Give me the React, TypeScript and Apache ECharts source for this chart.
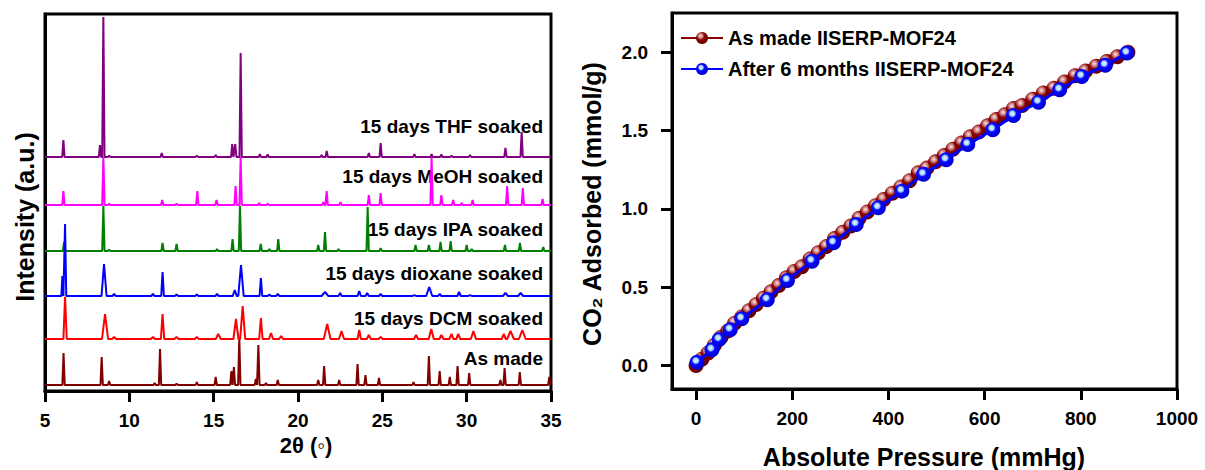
import React, { useEffect, useRef } from "react";
import * as echarts from "echarts";

const FONT = '"Liberation Sans", Arial, sans-serif';

// ---------- Left panel: PXRD patterns ----------
const twoThetaTicks = [5, 10, 15, 20, 25, 30, 35];
const patternNames = [
  "As made",
  "15 days DCM soaked",
  "15 days dioxane soaked",
  "15 days IPA soaked",
  "15 days MeOH soaked",
  "15 days THF soaked",
];
const patternColors = ["#800000", "#ff0000", "#0000ff", "#008000", "#ff00ff", "#800080"];
// vertical stacking offsets (a.u.)
const patternOffsets = [6, 52, 95, 140, 186, 234];
// default peak half-widths (degrees 2θ)
const patternHalfWidths = [0.07, 0.12, 0.1, 0.07, 0.07, 0.07];

// peaks: [2θ, intensity, optional half-width]
const peaksAsMade: number[][] = [
  [6.1, 32], [8.36, 28], [8.8, 4], [11.5, 2], [11.82, 36], [12.8, 1.5], [14.0, 3], [15.12, 8],
  [16.05, 14], [16.2, 18], [16.52, 48], [17.5, 6], [17.65, 40], [18.1, 2], [18.8, 5], [21.2, 5],
  [21.55, 19], [22.44, 5], [23.53, 21], [24.0, 10], [24.8, 7], [26.85, 3], [27.76, 29], [28.4, 14],
  [29.0, 8], [29.46, 19], [30.15, 12], [32.0, 5], [32.25, 17], [33.15, 13], [34.9, 8],
];
const peaksDCM: number[][] = [
  [6.19, 42, 0.1], [8.56, 25, 0.18], [9.1, 2], [11.4, 2], [11.97, 25, 0.1], [12.8, 2], [14.0, 2],
  [15.27, 5, 0.15], [16.32, 20, 0.15], [16.72, 33, 0.15], [17.8, 21, 0.1], [18.4, 6], [19.0, 3],
  [21.73, 15, 0.2], [22.58, 8, 0.15], [23.63, 9, 0.1], [24.2, 4], [24.9, 2], [27.0, 4],
  [27.9, 10, 0.15], [28.5, 4], [29.1, 5], [29.5, 5], [30.4, 8, 0.15], [32.2, 5], [32.6, 8, 0.2],
  [33.3, 9, 0.2],
];
const peaksDioxane: number[][] = [
  [6.03, 20, 0.06], [6.19, 72, 0.07], [8.5, 32, 0.15], [9.1, 2], [11.4, 2], [11.97, 24, 0.08],
  [12.8, 1.5], [14.0, 1.5], [15.2, 2], [16.25, 6, 0.12], [16.62, 31, 0.16], [17.8, 18, 0.08],
  [18.3, 1.5], [18.8, 2], [21.6, 4, 0.2], [22.5, 3], [23.63, 5], [24.1, 3], [24.9, 2], [26.9, 1],
  [27.78, 9, 0.18], [28.4, 2], [29.55, 4], [30.2, 1], [32.3, 3, 0.15], [33.2, 3, 0.15],
];
const peaksIPA: number[][] = [
  [6.13, 9], [8.46, 45], [8.8, 1.5], [11.97, 8], [12.8, 7], [15.2, 2], [16.12, 12], [16.56, 45],
  [17.79, 7], [18.3, 2], [18.83, 12], [21.2, 6], [21.6, 19], [22.4, 2], [24.13, 44], [24.9, 3],
  [26.97, 6], [27.76, 6], [28.45, 9], [29.05, 10], [30.0, 6], [30.3, 2], [32.27, 6], [33.16, 8],
  [34.54, 4],
];
const peaksMeOH: number[][] = [
  [6.09, 14], [8.46, 48], [8.8, 1.5], [11.95, 5], [12.8, 1.5], [14.03, 14], [15.17, 5],
  [16.3, 19], [16.6, 48], [17.7, 2], [18.2, 1.5], [21.5, 3], [21.7, 14], [22.52, 3], [24.2, 10],
  [24.9, 12], [27.92, 48], [28.5, 10], [29.2, 5], [29.7, 2], [30.35, 5], [32.4, 19], [33.33, 17],
  [34.5, 6],
];
const peaksTHF: number[][] = [
  [6.09, 17], [8.26, 12], [8.46, 140], [8.8, 1.5], [11.92, 4], [14.0, 1.5], [15.12, 2],
  [16.1, 13], [16.28, 13], [16.6, 104], [17.74, 3], [18.2, 2.5], [21.4, 2], [21.7, 6], [24.2, 4],
  [24.9, 14], [26.9, 3], [27.92, 3], [28.5, 2.5], [29.1, 1.5], [30.2, 2], [32.3, 9], [33.26, 25],
];
const patternPeaks = [peaksAsMade, peaksDCM, peaksDioxane, peaksIPA, peaksMeOH, peaksTHF];
const labelYs = [358, 318, 273, 229, 176, 126];

// ---------- Right panel: CO2 isotherms ----------
const pressureTicks = [0, 200, 400, 600, 800, 1000];
const uptakeTicks = [0, 0.5, 1.0, 1.5, 2.0];
const isoNames = ["As made IISERP-MOF24", "After 6 months IISERP-MOF24"];
const pressureAsMade = [
  0, 12, 25, 38, 52, 66, 80, 95, 110, 125, 140, 156, 172, 188, 204, 220, 237, 254, 271, 288, 305,
  322, 339, 356, 373, 390, 408, 426, 444, 462, 480, 498, 516, 534, 552, 570, 588, 606, 624, 642,
  660, 678, 700, 722, 744, 766, 788, 810, 832, 854, 876, 898,
];
const uptakeAsMade = [
  0.0, 0.04, 0.08, 0.13, 0.18, 0.22, 0.27, 0.31, 0.35, 0.39, 0.43, 0.47, 0.51, 0.56, 0.6, 0.63,
  0.68, 0.72, 0.76, 0.81, 0.85, 0.89, 0.94, 0.98, 1.02, 1.06, 1.1, 1.14, 1.18, 1.23, 1.26, 1.3,
  1.34, 1.38, 1.42, 1.46, 1.49, 1.53, 1.57, 1.6, 1.64, 1.66, 1.7, 1.74, 1.77, 1.81, 1.85, 1.88,
  1.91, 1.94, 1.97, 2.0,
];
const pressureAged = [
  2, 33, 48, 71, 95, 148, 190, 241, 286, 333, 379, 428, 473, 520, 565, 617, 660, 712, 756, 802,
  851, 896,
];
const uptakeAged = [
  0.02, 0.1, 0.166, 0.228, 0.298, 0.42, 0.543, 0.666, 0.783, 0.9, 1.007, 1.113, 1.22, 1.313, 1.411,
  1.505, 1.596, 1.681, 1.76, 1.845, 1.916, 1.994,
];

function buildPattern(peaks: number[][], base: number, hw: number) {
  const xs = new Set<number>([5, 35]);
  peaks.forEach((p) => {
    const w = p[2] ?? hw;
    xs.add(p[0] - w);
    xs.add(p[0]);
    xs.add(p[0] + w);
  });
  const sorted = [...xs].filter((x) => x >= 5 && x <= 35).sort((a, b) => a - b);
  return sorted.map((x) => {
    let y = base;
    peaks.forEach((p) => {
      const w = p[2] ?? hw;
      const d = Math.abs(x - p[0]);
      if (d < w) y += p[1] * (1 - d / w);
    });
    return [x, y];
  });
}

const axisLineStyle = { show: true, onZero: false, lineStyle: { color: "#000", width: 3 } };
const labelStyle = { fontSize: 19, fontWeight: "bold" as const, color: "#000", fontFamily: FONT };

export default function App() {
  const ref = useRef<HTMLDivElement>(null);
  useEffect(() => {
    document.body.style.margin = "0";
    if (!ref.current) return;
    const chart = echarts.init(ref.current, undefined, { renderer: "svg" });

    const redBall = new echarts.graphic.RadialGradient(0.38, 0.33, 0.62, [
      { offset: 0, color: "#ffe8e8" },
      { offset: 0.3, color: "#c87878" },
      { offset: 0.55, color: "#8a0000" },
      { offset: 1, color: "#6a0000" },
    ]);
    const blueBall = new echarts.graphic.RadialGradient(0.42, 0.38, 0.6, [
      { offset: 0, color: "#eef7ff" },
      { offset: 0.28, color: "#9fcfff" },
      { offset: 0.45, color: "#0a0aff" },
      { offset: 1, color: "#0000d0" },
    ]);

    const patternSeries = patternNames.map((name, i) => ({
      name,
      type: "line",
      xAxisIndex: 0,
      yAxisIndex: 0,
      data: buildPattern(patternPeaks[i], patternOffsets[i], patternHalfWidths[i]),
      showSymbol: false,
      symbol: "none",
      lineStyle: { color: patternColors[i], width: 2 },
      silent: true,
      z: i === 2 ? 8 : 2 + i,
    }));

    const text = (t: string, x: number, y: number, size: number, extra: any = {}) => ({
      type: "text",
      x,
      y,
      ...extra,
      style: {
        text: t,
        fill: "#000",
        fontSize: size,
        fontWeight: "bold",
        fontFamily: FONT,
        textAlign: extra.align ?? "center",
        textVerticalAlign: "middle",
      },
    });

    chart.setOption({
      animation: false,
      grid: [
        { left: 45, top: 14, width: 506, height: 377, show: true, borderColor: "#000", borderWidth: 3 },
        { left: 672, top: 13, width: 505, height: 376, show: true, borderColor: "#000", borderWidth: 3 },
      ],
      xAxis: [
        {
          gridIndex: 0,
          type: "value",
          min: twoThetaTicks[0],
          max: twoThetaTicks[twoThetaTicks.length - 1],
          interval: 5,
          axisLine: axisLineStyle,
          axisTick: { show: true, length: 11, lineStyle: { color: "#000", width: 3 } },
          axisLabel: { ...labelStyle, margin: 20, formatter: (v: number) => String(v) },
          splitLine: { show: false },
        },
        {
          gridIndex: 1,
          type: "value",
          min: -50,
          max: 1000,
          axisLine: axisLineStyle,
          axisTick: { show: true, length: 11, customValues: pressureTicks, lineStyle: { color: "#000", width: 3 } },
          axisLabel: {
            ...labelStyle,
            margin: 20,
            customValues: pressureTicks,
            formatter: (v: number) => String(v),
          },
          splitLine: { show: false },
        },
      ],
      yAxis: [
        {
          gridIndex: 0,
          type: "value",
          min: 0,
          max: 377,
          axisLine: axisLineStyle,
          axisTick: { show: false },
          axisLabel: { show: false },
          splitLine: { show: false },
        },
        {
          gridIndex: 1,
          type: "value",
          min: -0.15,
          max: 2.25,
          axisLine: axisLineStyle,
          axisTick: { show: true, length: 11, customValues: uptakeTicks, lineStyle: { color: "#000", width: 3 } },
          axisLabel: {
            ...labelStyle,
            margin: 24,
            customValues: uptakeTicks,
            formatter: (v: number) => v.toFixed(1),
          },
          splitLine: { show: false },
        },
      ],
      legend: {
        data: isoNames,
        orient: "vertical",
        left: 680,
        top: 28,
        padding: 0,
        itemWidth: 42,
        itemHeight: 15,
        itemGap: 11,
        selectedMode: false,
        textStyle: { fontSize: 20, fontWeight: "bold", color: "#000", fontFamily: FONT },
      },
      series: [
        ...patternSeries,
        {
          name: isoNames[0],
          type: "line",
          xAxisIndex: 1,
          yAxisIndex: 1,
          data: pressureAsMade.map((p, i) => [p, uptakeAsMade[i]]),
          symbol: "circle",
          symbolSize: 15,
          itemStyle: { color: redBall },
          lineStyle: { color: "#8a0000", width: 3 },
          z: 3,
        },
        {
          name: isoNames[1],
          type: "line",
          xAxisIndex: 1,
          yAxisIndex: 1,
          data: pressureAged.map((p, i) => [p, uptakeAged[i]]),
          symbol: "circle",
          symbolSize: 15,
          itemStyle: { color: blueBall },
          lineStyle: { color: "#0000ff", width: 3 },
          z: 4,
        },
      ],
      graphic: [
        ...patternNames.map((n, i) => text(n, 543, labelYs[i], 19, { align: "right" })),
        text("Intensity (a.u.)", 25, 217, 25, { rotation: Math.PI / 2 }),
        text("2θ (◦)", 306, 445, 22),
        text("CO₂ Adsorbed (mmol/g)", 592, 204, 25, { rotation: Math.PI / 2 }),
        text("Absolute Pressure (mmHg)", 924, 457, 25),
      ],
    });
    return () => chart.dispose();
  }, []);
  return <div ref={ref} style={{ width: 1205, height: 470 }} />;
}
